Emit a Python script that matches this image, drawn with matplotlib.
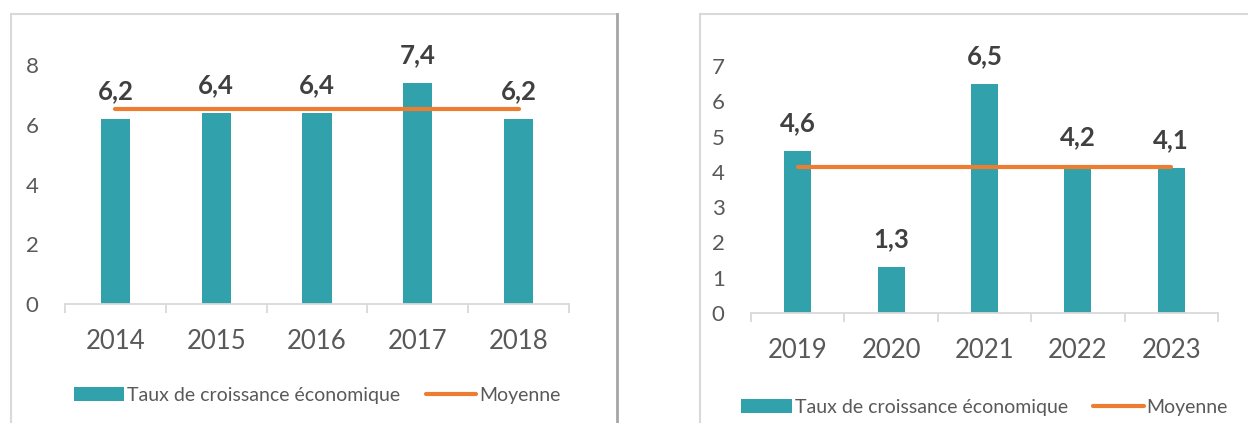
import matplotlib.pyplot as plt
from matplotlib.lines import Line2D
import numpy as np

# Données
annees_1 = ["2014", "2015", "2016", "2017", "2018"]
taux_1 = [6.2, 6.4, 6.4, 7.4, 6.2]
moyenne_1 = [6.52, 6.52, 6.52, 6.52, 6.52]

annees_2 = ["2019", "2020", "2021", "2022", "2023"]
taux_2 = [4.6, 1.3, 6.5, 4.2, 4.1]
moyenne_2 = [4.14, 4.14, 4.14, 4.14, 4.14]

TEAL = "#31A2AC"
ORANGE = "#ED7D31"
GRIS = "#595959"
AXE = "#D9D9D9"

plt.rcParams['font.family'] = ['Lato', 'DejaVu Sans']

W, H = 1248, 423
fig = plt.figure(figsize=(W / 100, H / 100), dpi=100)


def px(x0, y0, x1, y1):
    """rectangle en pixels -> coordonnées figure"""
    return [x0 / W, 1 - y1 / H, (x1 - x0) / W, (y1 - y0) / H]


def panneau(rect, annees, taux, moyenne, ymax):
    ax = fig.add_axes(rect)
    x = np.arange(len(annees))
    barres = ax.bar(x, taux, width=0.29, color=TEAL, label="Taux de croissance économique", zorder=2)
    ligne, = ax.plot(x, moyenne, color=ORANGE, lw=3, solid_capstyle='round', label="Moyenne", zorder=3)

    for xi, v in zip(x, taux):
        ax.annotate(f"{v:.1f}".replace(".", ","), (xi, v), xytext=(0, 20),
                    textcoords='offset points', ha='center', va='center',
                    fontsize=18.5, fontweight='bold', color="#404040")

    ax.set_xlim(-0.5, len(annees) - 0.5)
    ax.set_ylim(0, ymax)
    ax.set_xticks(x)
    ax.set_xticklabels(annees)
    ax.set_xticks(np.arange(-0.5, len(annees)), minor=True)
    ax.set_yticks(range(0, ymax + 1, 2 if ymax == 8 else 1))

    ax.tick_params(axis='x', which='major', length=0, pad=18, labelsize=18.5, labelcolor=GRIS)
    ax.tick_params(axis='x', which='minor', length=6.5, width=1.3, color=AXE)
    ax.tick_params(axis='y', length=0, pad=19, labelsize=16, labelcolor=GRIS)

    for s in ['top', 'right', 'left']:
        ax.spines[s].set_visible(False)
    ax.spines['bottom'].set_color(AXE)
    ax.spines['bottom'].set_linewidth(1.3)

    ax.legend([barres, ligne], ["Taux de croissance économique", "Moyenne"],
              loc='center', bbox_to_anchor=(0.5, -0.381), ncol=2, frameon=False,
              fontsize=14, labelcolor=GRIS, handlelength=2.6, handletextpad=0.15,
              columnspacing=1.3)
    return ax


panneau(px(65, 65, 569, 304), annees_1, taux_1, moyenne_1, 8)
panneau(px(751, 66, 1218, 313), annees_2, taux_2, moyenne_2, 7)

# cadres des deux graphiques
def trait(xs, ys, color=AXE, lw=1.5):
    fig.add_artist(Line2D([v / W for v in xs], [1 - v / H for v in ys],
                          color=color, lw=lw, transform=fig.transFigure))

trait([11, 617], [14, 14])
trait([11, 11], [14, 423])
trait([617, 617], [14, 423], color="#A6A6A6", lw=2)
trait([700, 1248], [14, 14])
trait([700, 700], [14, 423])

fig.savefig("out.png", dpi=100)
